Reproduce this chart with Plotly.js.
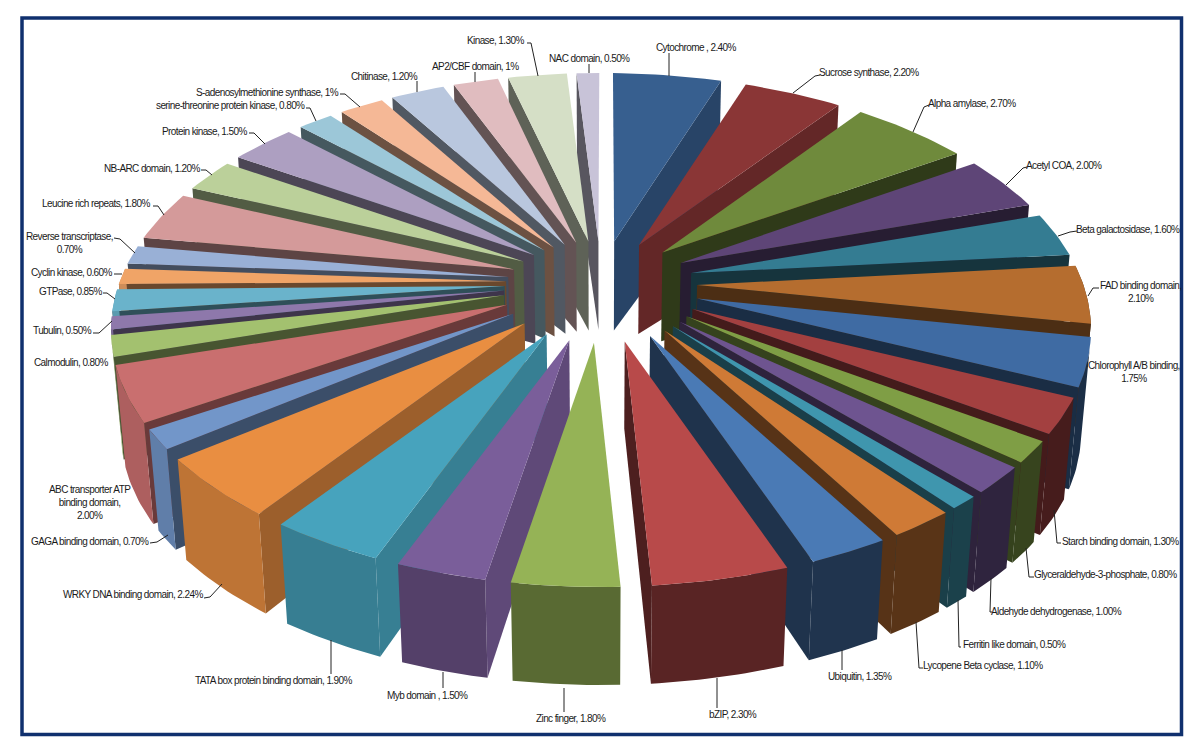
<!DOCTYPE html>
<html><head><meta charset="utf-8">
<script src="https://cdn.plot.ly/plotly-3.0.1.min.js"></script>
<style>html,body{margin:0;padding:0;background:#fff}
.annotation-text{letter-spacing:-0.6px}</style></head>
<body><div id="chart" style="width:1200px;height:756px"></div>
<script>
// ---------- data ----------
const categories = ["Cytochrome","Sucrose synthase","Alpha amylase","Acetyl COA","Beta galactosidase","FAD binding domain","Chlorophyll A/B binding","Starch binding domain","Glyceraldehyde-3-phosphate","Aldehyde dehydrogenase","Ferritin like domain","Lycopene Beta cyclase","Ubiquitin","bZIP","Zinc finger","Myb domain","TATA box protein binding domain","WRKY DNA binding domain","GAGA binding domain","ABC transporter ATP binding domain","Calmodulin","Tubulin","GTPase","Cyclin kinase","Reverse transcriptase","Leucine rich repeats","NB-ARC domain","Protein kinase","serine-threonine protein kinase","S-adenosylmethionine synthase","Chitinase","AP2/CBF domain","Kinase","NAC domain"];
const values = [2.40,2.20,2.70,2.00,1.60,2.10,1.75,1.30,0.80,1.00,0.50,1.10,1.35,2.30,1.80,1.50,1.90,2.24,0.70,2.00,0.80,0.50,0.85,0.60,0.70,1.80,1.20,1.50,0.80,1,1.20,1,1.30,0.50];
const labelTexts = ["Cytochrome , 2.40%","Sucrose synthase, 2.20%","Alpha amylase, 2.70%","Acetyl COA, 2.00%","Beta galactosidase, 1.60%","FAD binding domain,<br>2.10%","Chlorophyll A/B binding,<br>1.75%","Starch binding domain, 1.30%","Glyceraldehyde-3-phosphate, 0.80%","Aldehyde dehydrogenase, 1.00%","Ferritin like domain, 0.50%","Lycopene Beta cyclase, 1.10%","Ubiquitin, 1.35%","bZIP, 2.30%","Zinc finger, 1.80%","Myb domain , 1.50%","TATA box protein binding domain, 1.90%","WRKY DNA binding domain, 2.24%","GAGA binding domain, 0.70%","ABC transporter ATP<br>binding domain,<br>2.00%","Calmodulin, 0.80%","Tubulin, 0.50%","GTPase, 0.85%","Cyclin kinase, 0.60%","Reverse transcriptase,<br>0.70%","Leucine rich repeats, 1.80%","NB-ARC domain, 1.20%","Protein kinase, 1.50%","serine-threonine protein kinase, 0.80%","S-adenosylmethionine synthase, 1%","Chitinase, 1.20%","AP2/CBF domain, 1%","Kinase, 1.30%","NAC domain, 0.50%"];
const faceColors = ["#375f8f","#8a3636","#6f8a3c","#5e4577","#347c92","#b56d2f","#3f6ba3","#a34040","#7f9e45","#6e5490","#3f96ae","#cf7a36","#4a7ab5","#b84a4a","#95b356","#7a5e9a","#47a3bd","#e98e41","#7296c9","#c96f6f","#a3c16f","#8e78ab","#6ab3cb","#f0a467","#99b0d6","#d49a9a","#bbd09a","#ad9fc1","#9cc7d8","#f5b896","#b9c7de","#e0bcbf","#d5dfc6","#c8c3d8"];

// ---------- label placement (centre of text) ----------
const labelX = [696,869,972,1064,1128,1140,1134,1120,1105,1056,1014,983,860,733,571,427,273,133,90,90,71,62,70,72,69,96,152,204,230,267,384,475,495,589];
const labelY = [47,72,103,165,229,292,372,541,574,611,644,665,676,714,718,695,680,594,541,502,362,330,291,272,243,203,168,131,105,92,76,66,40,58];
const leaderPaths = [
 [[669,53],[669,76]],[[820,75],[815,76],[793,93]],[[929,105],[924,107],[913,132]],[[1027,167],[1023,168],[1006,185]],
 [[1077,231],[1070,232],[1058,236]],[[1099,288],[1093,288],[1088,296]],[],[[1061,543],[1057,543],[1054,510]],
 [[1034,577],[1029,577],[1026,548]],[[992,612],[990,612],[991,578]],[[961,647],[959,647],[958,600]],[[923,668],[919,668],[916,622]],
 [[842,670],[842,650]],[[717,708],[717,678]],[[564,712],[564,688]],[[443,688],[443,672]],[[331,674],[331,640]],
 [[204,598],[210,597],[222,584]],[[150,543],[157,542],[168,535]],[],[],[[93,333],[99,333],[112,321]],[[103,293],[107,293],[115,299]],
 [[114,274],[122,274]],[[114,238],[120,239],[135,253]],[[153,206],[158,206],[164,215]],[[201,170],[206,170],[212,175]],
 [[249,133],[254,133],[265,144]],[[306,108],[310,108],[316,121]],[[340,94],[345,94],[360,107]],[[417,81],[417,92]],[[475,72],[475,82]],
 [[527,43],[531,43],[538,76]],[[589,64],[589,73]]];

// ---------- projection of the 3-D exploded pie ----------
const rad = d => d*Math.PI/180;
const topRim = {cx:601,cy:330,rx:490,ry:257}, botRim = {cx:601,cy:433,rx:480,ry:252};
const topHub = {cx:601,cy:292,rx:97,ry:51},   botHub = {cx:601,cy:380,rx:95,ry:50};
const at = (e,t) => [e.cx+e.rx*Math.sin(rad(t)), e.cy-e.ry*Math.cos(rad(t))];
// perspective foreshortening: degrees of rim per percent, and explosion gap, around the pie
const rateCurve = [[0,5.3],[40,5.4],[60,5.7],[75,6.1],[90,6.4],[110,6.6],[160,7.1],[200,7.2],[230,6.9],[250,6.9],[265,6.2],[275,5.8],[300,5.8],[320,5.4],[360,5.3]];
const gapCurve = [[0,1.5],[10,3],[50,3],[62,2.6],[75,2.5],[90,3],[105,2.3],[115,1.7],[122,1.3],[135,1.4],[145,2.2],[156,3.5],[176,3.7],[192,3],[205,2.9],[222,3.5],[240,2.6],[247,1.6],[263,1.8],[270,1.1],[285,1.2],[290,2.2],[302,2],[320,1.8],[330,1.4],[360,1.1]];
function curve(c,t){
  t=((t%360)+360)%360;
  for(let i=1;i<c.length;i++) if(t<=c[i][0]) return c[i-1][1]+(c[i][1]-c[i-1][1])*(t-c[i-1][0])/(c[i][0]-c[i-1][0]);
  return c[c.length-1][1];
}
const START = 1.4, LAST_END = 359.8;
function sweep(s){
  let t=START; const out=[];
  values.forEach(v=>{
    const span=v*s*curve(rateCurve,t+v*3);
    out.push([t,t+span]); t+=span+curve(gapCurve,t+span);
  });
  return {out,end:out[out.length-1][1]};
}
let lo=0.8,hi=1.2;
for(let i=0;i<40;i++){const m=(lo+hi)/2; if(sweep(m).end>LAST_END) hi=m; else lo=m;}
const spans = sweep((lo+hi)/2).out;

function shade(hex,f){
  const n=parseInt(hex.slice(1),16);
  return `rgb(${Math.round((n>>16)*f)},${Math.round(((n>>8)&255)*f)},${Math.round((n&255)*f)})`;
}
const clamp=(a,b,x)=>Math.max(a,Math.min(b,x));
const rimShade = t => t<160?0.43:t<215?0.45+(t-160)*0.33/55:clamp(0.78,0.86,0.78+(t-215)*0.002);
const endWallShade = t => t<30?0.72:(t<45?0.55:0.42);
const startWallShade = t => t<215?0.78:(t<232?0.67:(t<250?0.52:0.44));

function arc(e,a,b){const p=[];const n=Math.max(2,Math.ceil(Math.abs(b-a)));for(let i=0;i<=n;i++)p.push(at(e,a+(b-a)*i/n));return p;}
function poly(points,color,name){
  const xs=points.map(p=>p[0]).concat(points[0][0]), ys=points.map(p=>p[1]).concat(points[0][1]);
  return {type:'scatter',mode:'lines',x:xs,y:ys,fill:'toself',fillcolor:color,line:{width:0,color:color},
          name:name,hoverinfo:'name',showlegend:false};
}
const order = values.map((_,i)=>i).sort((a,b)=>{
  const m=i=>(spans[i][0]+spans[i][1])/2; return Math.cos(rad(m(b)))-Math.cos(rad(m(a)));
});
const traces=[];
order.forEach(i=>{
  const [t0,t1]=spans[i], mid=(t0+t1)/2, c=faceColors[i], name=categories[i]+', '+values[i]+'%';
  const hubT=at(topHub,mid), hubB=at(botHub,mid);
  if(Math.sin(rad(t0))<0) traces.push(poly([hubT,at(topRim,t0),at(botRim,t0),hubB],shade(c,startWallShade(t0)),name));
  if(Math.sin(rad(t1))>0) traces.push(poly([hubT,at(topRim,t1),at(botRim,t1),hubB],shade(c,endWallShade(t1)),name));
  const a=Math.max(t0,75), b=Math.min(t1,285);
  if(b>a) traces.push(poly(arc(topRim,a,b).concat(arc(botRim,b,a)),shade(c,rimShade(mid)),name));
  traces.push(poly([hubT].concat(arc(topRim,t0,t1)),c,name));
});

const annotations = labelTexts.map((txt,i)=>({x:labelX[i],y:labelY[i],xref:'x',yref:'y',text:txt,showarrow:false,
  xanchor:'center',yanchor:'middle',align:'center',font:{family:'"Liberation Sans",Arial,sans-serif',size:10,color:'#1a1a1a'}}));
const shapes = leaderPaths.filter(p=>p.length).map(p=>({type:'path',xref:'x',yref:'y',
  path:p.map((q,j)=>(j?'L':'M')+q[0]+','+q[1]).join(' '),line:{color:'#222',width:1}}));
shapes.push({type:'rect',xref:'x',yref:'y',x0:22,y0:18,x1:1181.5,y1:734.5,line:{color:'#10306e',width:3.5},fillcolor:'rgba(0,0,0,0)'});

Plotly.newPlot('chart',traces,{
  width:1200,height:756,margin:{l:0,r:0,t:0,b:0},paper_bgcolor:'#fff',plot_bgcolor:'#fff',showlegend:false,
  xaxis:{range:[0,1200],visible:false,fixedrange:true},yaxis:{range:[756,0],visible:false,fixedrange:true},
  annotations:annotations,shapes:shapes
},{displayModeBar:false,staticPlot:true});
</script></body></html>
